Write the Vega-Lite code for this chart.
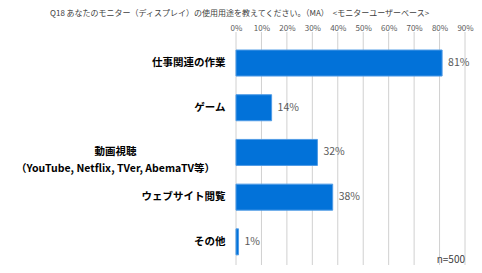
{
  "$schema": "https://vega.github.io/schema/vega-lite/v6.json",
  "width": 229,
  "height": 233,
  "autosize": {"type": "none"},
  "padding": {"left": 236, "top": 32, "right": 17, "bottom": 8},
  "config": {"view": {"stroke": null}, "font": "Noto Sans CJK JP"},
  "title": {
    "text": "Q18 あなたのモニター（ディスプレイ）の使用用途を教えてください。（MA）　<モニターユーザーベース>",
    "anchor": "start",
    "frame": "group",
    "dx": -186,
    "offset": 6,
    "fontSize": 8,
    "fontWeight": "normal",
    "color": "#404040",
    "font": "Noto Sans CJK JP",
    "limit": 0
  },
  "datasets": {
    "bars": [
      {"item": "仕事関連の作業", "value": 0.81},
      {"item": "ゲーム", "value": 0.14},
      {"item": "動画視聴|（YouTube, Netflix, TVer, AbemaTV等）", "value": 0.32},
      {"item": "ウェブサイト閲覧", "value": 0.38},
      {"item": "その他", "value": 0.01}
    ],
    "grid": [
      {"value": 0}, {"value": 0.1}, {"value": 0.2}, {"value": 0.3}, {"value": 0.4},
      {"value": 0.5}, {"value": 0.6}, {"value": 0.7}, {"value": 0.8}, {"value": 0.9}
    ]
  },
  "encoding": {
    "x": {
      "field": "value",
      "type": "quantitative",
      "scale": {"domain": [0, 0.9], "nice": false},
      "axis": {
        "orient": "top",
        "title": null,
        "format": ".0%",
        "values": [0, 0.1, 0.2, 0.3, 0.4, 0.5, 0.6, 0.7, 0.8, 0.9],
        "grid": false,
        "domain": false,
        "ticks": false,
        "tickSize": 0,
        "labelFontSize": 8,
        "labelColor": "#595959",
        "labelPadding": 0,
        "labelOverlap": false,
        "labelFlush": false,
        "labelBound": false,
        "labelFont": "Noto Sans CJK JP"
      }
    }
  },
  "layer": [
    {
      "data": {"name": "grid"},
      "mark": {"type": "rule", "color": "#d0d0d0", "strokeWidth": 1}
    },
    {
      "data": {"name": "bars"},
      "mark": {"type": "bar", "color": "#0272D9", "stroke": "#4F9BE6", "strokeWidth": 1},
      "encoding": {
        "y": {
          "field": "item",
          "type": "nominal",
          "sort": null,
          "scale": {"paddingInner": 0.418, "paddingOuter": 0.315, "align": 0.64},
          "axis": {
            "title": null,
            "ticks": false,
            "domain": false,
            "labelExpr": "split(datum.value, '|')",
            "labelFont": "Noto Sans CJK JP",
            "labelFontSize": 10.5,
            "labelFontWeight": "bold",
            "labelColor": "#000000",
            "labelLimit": 300,
            "labelLineHeight": 17,
            "labelAlign": {"condition": {"test": "indexof(datum.value, '|') >= 0", "value": "center"}, "value": "right"},
            "labelPadding": {"condition": {"test": "indexof(datum.value, '|') >= 0", "value": 121}, "value": 11}
          }
        }
      }
    },
    {
      "data": {"name": "bars"},
      "mark": {"type": "text", "align": "left", "dx": 6, "fontSize": 10.5, "color": "#595959", "font": "Noto Sans CJK JP"},
      "encoding": {
        "y": {"field": "item", "type": "nominal", "sort": null},
        "text": {"field": "value", "type": "quantitative", "format": ".0%"}
      }
    },
    {
      "data": {"values": [{"value": 0.9, "item": "その他", "label": "n=500"}]},
      "mark": {"type": "text", "align": "right", "baseline": "middle", "dy": 18, "fontSize": 10, "color": "#404040", "font": "Noto Sans CJK JP"},
      "encoding": {
        "y": {"field": "item", "type": "nominal", "sort": null},
        "text": {"field": "label"}
      }
    }
  ]
}
